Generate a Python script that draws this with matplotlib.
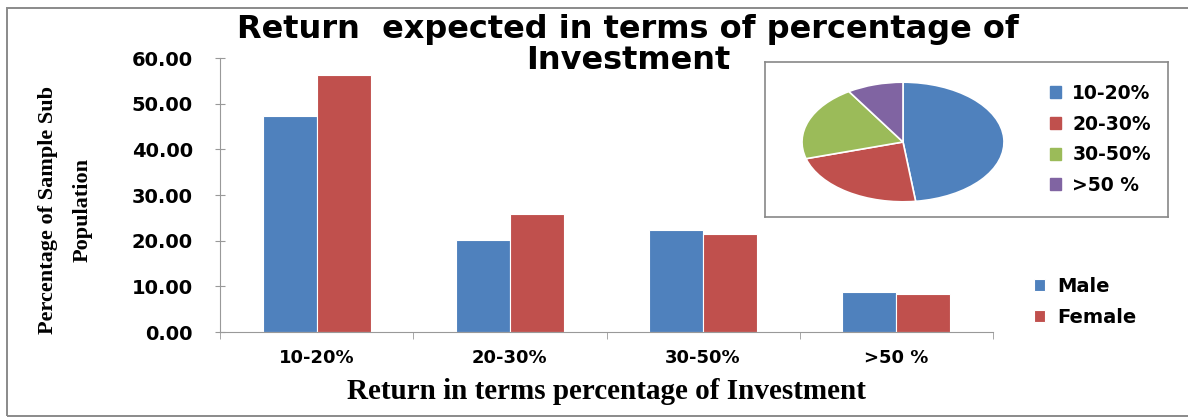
import matplotlib.pyplot as plt
import numpy as np
from matplotlib.patches import Rectangle, Patch

categories = ["10-20%", "20-30%", "30-50%", ">50 %"]
male = [47.3, 20.1, 22.3, 8.8]
female = [56.3, 25.8, 21.5, 8.3]
pieLabels = ["10-20%", "20-30%", "30-50%", ">50 %"]
pieValues = [48.0, 22.5, 20.5, 9.0]

blue = "#4F81BD"
red = "#C0504D"
green = "#9BBB59"
purple = "#8064A2"

W, H = 1188, 419
fig = plt.figure(figsize=(W / 100, H / 100), dpi=100)


def box(x0, y0, x1, y1):
    # pixel box (top-left origin) -> figure fraction rect
    return [x0 / W, 1 - y1 / H, (x1 - x0) / W, (y1 - y0) / H]


# outer frame (right edge runs off the picture)
fig.patches.append(Rectangle((7 / W, 1 - 416 / H), 1190 / W, 408 / H, transform=fig.transFigure,
                             fill=False, edgecolor="#8a8a8a", linewidth=1.4))

ax = fig.add_axes(box(220, 58, 993, 332))
x = np.arange(len(categories))
w = 0.28
ax.bar(x - w / 2, male, w, color=blue, edgecolor="white", linewidth=0.8, label="Male")
ax.bar(x + w / 2, female, w, color=red, edgecolor="white", linewidth=0.8, label="Female")
ax.set_xlim(-0.5, len(categories) - 0.5)
ax.set_ylim(0, 60)
ax.set_yticks(np.arange(0, 61, 10))
ax.set_yticklabels(["%.2f" % v for v in np.arange(0, 61, 10)], fontsize=14, fontweight="bold")
ax.set_xticks(x)
ax.set_xticklabels(categories, fontsize=13, fontweight="bold")
ax.tick_params(axis="x", length=0, pad=12)
ax.set_xticks(np.arange(-0.5, len(categories), 1), minor=True)
ax.tick_params(axis="x", which="minor", length=5, color="#999999", direction="out")
ax.tick_params(axis="y", length=7, color="#999999", direction="inout", pad=16)
for s in ["top", "right"]:
    ax.spines[s].set_visible(False)
ax.spines["left"].set_color("#999999")
ax.spines["bottom"].set_color("#999999")
ax.set_xlabel("Return in terms percentage of Investment", family="Liberation Serif",
              fontsize=21, fontweight="bold", labelpad=8)
ax.set_ylabel("Percentage of Sample Sub\nPopulation", family="Liberation Serif",
              fontsize=16, fontweight="bold", linespacing=2.0)
ax.yaxis.set_label_coords((93 - 220) / (993 - 220), (332 - 210) / (332 - 58))
ax.legend(loc="center left", bbox_to_anchor=(1.03, 0.11), frameon=False,
          prop={"weight": "bold", "size": 14}, handlelength=0.6, handleheight=0.6,
          handletextpad=0.6, labelspacing=0.65)

fig.text(628 / W, 1 - 14 / H, "Return  expected in terms of percentage of\nInvestment",
         ha="center", va="top", fontsize=23, fontweight="bold", linespacing=1.02)

# pie inset
frame = fig.add_axes(box(765, 62, 1168, 217))
frame.set_xticks([])
frame.set_yticks([])
for s in frame.spines.values():
    s.set_color("#888888")
    s.set_linewidth(1.2)

pax = fig.add_axes(box(800, 81, 1006, 203))
pieColors = [blue, red, green, purple]
pax.pie(pieValues, colors=pieColors, startangle=90, counterclock=False,
        wedgeprops={"edgecolor": "white", "linewidth": 1.2})
pax.set_aspect("auto")
pax.set_xlim(-1.02, 1.02)
pax.set_ylim(-1.02, 1.02)

handles = [Patch(color=c) for c in pieColors]
frame.legend(handles, pieLabels, loc="center left", bbox_to_anchor=(0.665, 0.5), frameon=False,
             prop={"weight": "bold", "size": 13.5}, handlelength=0.6, handleheight=0.6,
             handletextpad=0.6, labelspacing=0.62)

plt.savefig("out.png", dpi=100)
